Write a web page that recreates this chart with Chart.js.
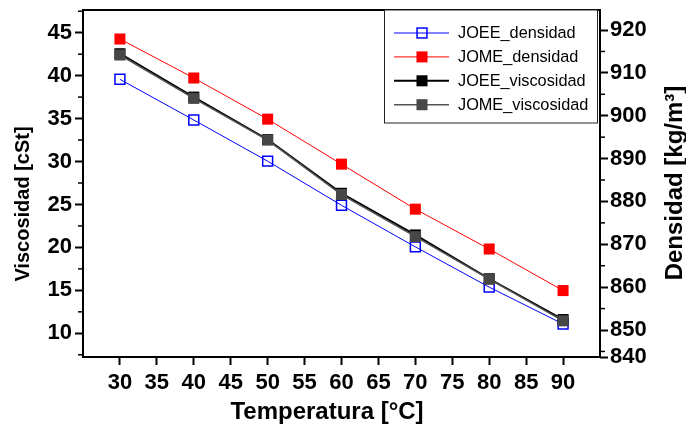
<!DOCTYPE html>
<html lang="es">
<head>
<meta charset="UTF-8">
<title>Viscosidad y densidad vs temperatura</title>
<script src="https://cdn.jsdelivr.net/npm/chart.js@4.4.1/dist/chart.umd.min.js"></script>
<style>
  html, body { margin: 0; padding: 0; background: #fff; }
  #wrap { width: 686px; height: 431px; }
</style>
</head>
<body>
<div id="wrap"><canvas id="chart" width="686" height="431"></canvas></div>
<script>
// temperatures [°C] and measured values
const temperaturas = [30, 40, 50, 60, 70, 80, 90];
const joeeDensidad = [908.5, 899.0, 889.4, 879.1, 869.4, 860.0, 851.4];
const jomeDensidad = [917.9, 908.8, 899.2, 888.7, 878.2, 868.9, 859.2];
const joeeViscosidad = [42.55, 37.5, 32.55, 26.3, 21.45, 16.35, 11.6];
const jomeViscosidad = [42.4, 37.35, 32.5, 26.15, 21.25, 16.3, 11.45];

// tick labels
const xTicks = [30, 35, 40, 45, 50, 55, 60, 65, 70, 75, 80, 85, 90];
const viscTicks = [10, 15, 20, 25, 30, 35, 40, 45];
const densTicks = [840, 850, 860, 870, 880, 890, 900, 910, 920];

const FONT = 'Arial, "Liberation Sans", sans-serif';
const tickFont = { family: FONT, size: 22, weight: 'bold' };

const pts = arr => temperaturas.map((t, i) => ({ x: t, y: arr[i] }));

const datasets = [
    {
        label: 'JOEE_densidad', data: pts(joeeDensidad), yAxisID: 'y1', order: 3,
        borderColor: '#0000ff', borderWidth: 1,
        pointStyle: 'rect', pointRadius: 7, pointBorderWidth: 1.5,
        pointBorderColor: '#0000ff', pointBackgroundColor: 'rgba(0,0,0,0)'
    },
    {
        label: 'JOME_densidad', data: pts(jomeDensidad), yAxisID: 'y1', order: 2,
        borderColor: '#ff0000', borderWidth: 1,
        pointStyle: 'rect', pointRadius: 7.8, pointBorderWidth: 0,
        pointBackgroundColor: '#ff0000'
    },
    {
        label: 'JOEE_viscosidad', data: pts(joeeViscosidad), yAxisID: 'y', order: 1,
        borderColor: '#000000', borderWidth: 2,
        pointStyle: 'rect', pointRadius: 7.8, pointBorderWidth: 0,
        pointBackgroundColor: '#000000'
    },
    {
        label: 'JOME_viscosidad', data: pts(jomeViscosidad), yAxisID: 'y', order: 0,
        borderColor: '#555555', borderWidth: 1.5,
        pointStyle: 'rect', pointRadius: 7.8, pointBorderWidth: 0,
        pointBackgroundColor: '#474747'
    }
];

// frame, minor ticks, axis titles and the boxed legend
const extras = {
    id: 'extras',
    afterDraw(chart) {
        const { ctx, chartArea: a, scales } = chart;
        ctx.save();
        ctx.strokeStyle = '#000';
        ctx.lineWidth = 2;
        ctx.strokeRect(a.left, a.top, a.right - a.left, a.bottom - a.top);

        // minor ticks
        ctx.lineWidth = 1.5;
        for (let v = viscTicks[0] - 2.5; v <= scales.y.max; v += 5) {
            if (v < scales.y.min) continue;
            const y = scales.y.getPixelForValue(v);
            ctx.beginPath(); ctx.moveTo(a.left - 5, y); ctx.lineTo(a.left, y); ctx.stroke();
        }
        for (let v = densTicks[1] - 5; v <= scales.y1.max; v += 10) {
            if (v < scales.y1.min) continue;
            const y = scales.y1.getPixelForValue(v);
            ctx.beginPath(); ctx.moveTo(a.right, y); ctx.lineTo(a.right + 5, y); ctx.stroke();
        }

        // titles
        ctx.fillStyle = '#000';
        ctx.textAlign = 'center';
        ctx.textBaseline = 'middle';
        ctx.font = 'bold 24px ' + FONT;
        ctx.fillText('Temperatura [°C]', 327, 412);

        ctx.save();
        ctx.translate(23, 204);
        ctx.rotate(-Math.PI / 2);
        ctx.font = 'bold 20px ' + FONT;
        ctx.fillText('Viscosidad [cSt]', 0, 0);
        ctx.restore();

        ctx.save();
        ctx.translate(675, 183);
        ctx.rotate(-Math.PI / 2);
        ctx.font = 'bold 24px ' + FONT;
        ctx.fillText('Densidad [kg/m³]', 0, 0);
        ctx.restore();

        // legend
        const lx = 384, ly = a.top, lw = 213, lh = 113;
        ctx.fillStyle = '#fff';
        ctx.fillRect(lx, ly, lw, lh);
        ctx.strokeStyle = '#222';
        ctx.lineWidth = 1;
        ctx.strokeRect(lx + 0.5, ly, lw, lh);
        ctx.font = '16.3px ' + FONT;
        ctx.textAlign = 'left';
        chart.data.datasets.forEach((ds, i) => {
            const y = ly + 23 + i * 23.9;
            ctx.strokeStyle = ds.borderColor;
            ctx.lineWidth = ds.borderWidth;
            ctx.beginPath(); ctx.moveTo(lx + 10, y); ctx.lineTo(lx + 65, y); ctx.stroke();
            const s = ds.pointRadius * Math.SQRT1_2;
            if (ds.pointBorderWidth > 0) {
                ctx.lineWidth = ds.pointBorderWidth;
                ctx.strokeStyle = ds.pointBorderColor;
                ctx.strokeRect(lx + 38 - s, y - s, 2 * s, 2 * s);
            } else {
                ctx.fillStyle = ds.pointBackgroundColor;
                ctx.fillRect(lx + 38 - s, y - s, 2 * s, 2 * s);
            }
            ctx.fillStyle = '#000';
            ctx.fillText(ds.label, lx + 74, y + 1);
        });
        ctx.restore();
    }
};

const axisGrid = { drawOnChartArea: false, drawTicks: true, tickLength: 8, tickWidth: 2, tickColor: '#000' };

new Chart(document.getElementById('chart'), {
    type: 'line',
    data: { datasets: datasets },
    options: {
        responsive: false,
        animation: false,
        layout: { padding: { top: 10, left: 0, right: 0, bottom: 0 } },
        elements: { line: { tension: 0 } },
        plugins: { legend: { display: false }, tooltip: { enabled: false } },
        scales: {
            x: {
                type: 'linear', min: 25, max: 95,
                afterBuildTicks: s => { s.ticks = xTicks.map(v => ({ value: v })); },
                afterFit: s => { s.height = 74; s.paddingLeft = 0; s.paddingRight = 0; },
                ticks: { autoSkip: false, maxRotation: 0, padding: 5, font: tickFont, color: '#000' },
                grid: axisGrid,
                border: { display: false }
            },
            y: {
                position: 'left', min: 7.24, max: 47.64,
                afterBuildTicks: s => { s.ticks = viscTicks.map(v => ({ value: v })); },
                afterFit: s => { s.width = 83; s.paddingTop = 0; s.paddingBottom = 0; },
                ticks: { autoSkip: false, padding: 3, font: tickFont, color: '#000' },
                grid: axisGrid,
                border: { display: false }
            },
            y1: {
                position: 'right', min: 843.7, max: 924.67,
                afterBuildTicks: s => { s.ticks = densTicks.map(v => ({ value: Math.max(v, s.min) })); },
                afterFit: s => { s.width = 86; s.paddingTop = 0; s.paddingBottom = 0; },
                ticks: {
                    autoSkip: false, padding: 2, font: tickFont, color: '#000',
                    callback: (v, i) => String(densTicks[i])
                },
                grid: axisGrid,
                border: { display: false }
            }
        }
    },
    plugins: [extras]
});
</script>
</body>
</html>
